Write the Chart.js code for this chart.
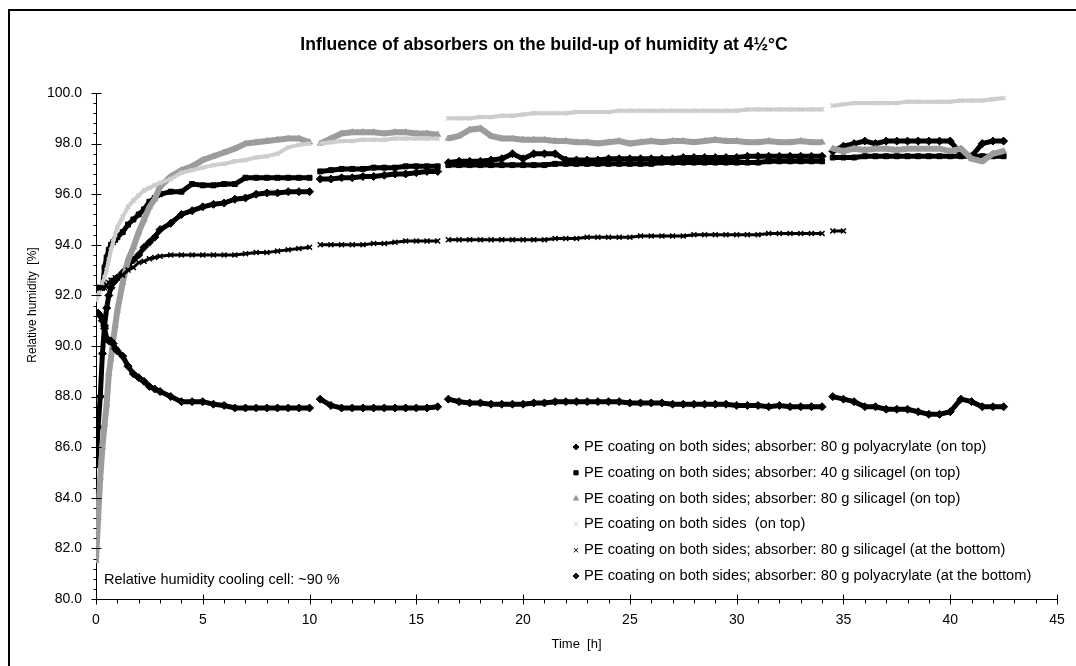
<!DOCTYPE html>
<html><head><meta charset="utf-8">
<script src="https://cdn.jsdelivr.net/npm/chart.js@4.4.0/dist/chart.umd.min.js"></script>
<style>html,body{margin:0;padding:0;background:#fff;}#wrap{position:relative;width:1076px;height:666px;}</style>
</head><body><div id="wrap"><canvas id="c" width="1076" height="666"></canvas></div>
<script>
// time [h]; null rows mark the measurement breaks
const times = [0,0.1,0.2,0.3,0.4,0.5,0.6,0.7,0.8,0.9,1,1.25,1.5,1.75,2,2.25,2.5,2.75,3,3.5,4,4.5,5,5.5,6,6.5,7,7.5,8,8.5,9,9.5,10,
  10.25,
  10.5,11,11.5,12,12.5,13,13.5,14,14.5,15,15.5,16,
  16.25,
  16.5,17,17.5,18,18.5,19,19.5,20,20.5,21,21.5,22,22.5,23,23.5,24,24.5,25,25.5,26,26.5,27,27.5,28,28.5,29,29.5,30,30.5,31,31.5,32,32.5,33,33.5,34,
  34.25,
  34.5,35,35.5,36,36.5,37,37.5,38,38.5,39,39.5,40,40.5,41,41.5,42,42.5];

const paTop = [85.3,86.8,88.0,89.7,90.8,91.5,92.0,92.3,92.5,92.6,92.7, 92.9,93.2,93.4,93.6,93.9,94.1,94.3,94.6, 94.85,95.2,95.35,95.5,95.6,95.65,95.8,95.85,96.0,96.05,96.05,96.1,96.1,96.1,
  null,
  96.6,96.6,96.65,96.65,96.7,96.7,96.75,96.8,96.8,96.85,96.9,96.9,
  null,
  97.25,97.3,97.3,97.3,97.35,97.4,97.6,97.4,97.6,97.6, 97.6,97.35,97.35,97.35,97.35,97.4,97.4,97.4,97.4,97.4, 97.4,97.4,97.45,97.45,97.45,97.45,97.45,97.45,97.5,97.5, 97.5,97.5,97.5,97.5,97.5,97.5,
  null,
  97.7,97.9,98.0,98.1,98.0,98.1,98.1,98.1,98.1,98.1, 98.1,98.1,97.6,97.5,98.0,98.1,98.1];

const sg40Top = [92.3,92.3,92.3,92.3,93.1,93.5,93.8,94.0,94.1,94.2,94.3, 94.5,94.8,95.0,95.2,95.4,95.7,95.85,96.0, 96.1,96.1,96.4,96.35,96.35,96.4,96.4,96.65,96.65,96.65,96.65,96.65,96.65,96.65,
  null,
  96.9,96.95,97.0,97.0,97.0,97.05,97.05,97.05,97.1,97.1,97.1,97.1,
  null,
  97.15,97.15,97.15,97.15,97.15,97.15,97.15,97.15,97.15,97.15, 97.2,97.2,97.2,97.2,97.2,97.2,97.2,97.2,97.2,97.2, 97.25,97.25,97.25,97.25,97.25,97.25,97.25,97.25,97.25,97.25, 97.3,97.3,97.3,97.3,97.3,97.3,
  null,
  97.45,97.45,97.45,97.5,97.5,97.5,97.5,97.5,97.5,97.5, 97.5,97.5,97.5,97.5,97.5,97.5,97.5];

const sg80Top = [81.5,83.2,84.8,86.0,86.9,87.7,88.9,89.5,90.2,90.8,91.4, 92.5,93.4,93.9,94.5,95.0,95.5,95.8,96.3, 96.7,96.95,97.1,97.35,97.5,97.65,97.8,98.0,98.05,98.1,98.15,98.2,98.2,98.05,
  null,
  98.0,98.2,98.4,98.45,98.45,98.45,98.4,98.45,98.45,98.4,98.4,98.35,
  null,
  98.2,98.3,98.55,98.6,98.3,98.2,98.2,98.15,98.15,98.15, 98.1,98.1,98.05,98.05,98.0,98.05,98.1,98.0,98.05,98.1, 98.05,98.1,98.1,98.05,98.1,98.15,98.1,98.1,98.05,98.05, 98.1,98.05,98.05,98.1,98.05,98.05,
  null,
  97.8,97.7,97.8,97.75,97.8,97.8,97.75,97.8,97.8,97.8, 97.8,97.7,97.8,97.4,97.3,97.6,97.7];

const peTop = [91.8,92.0,92.2,92.5,92.7,93.0,93.4,93.8,94.1,94.4,94.7, 95.1,95.5,95.75,95.95,96.15,96.25,96.35,96.45, 96.6,96.85,96.95,97.05,97.15,97.2,97.3,97.35,97.45,97.5,97.6,97.85,97.95,98.0,
  null,
  98.0,98.05,98.1,98.1,98.15,98.15,98.15,98.2,98.2,98.2,98.2,98.2,
  null,
  99.0,99.0,99.0,99.05,99.05,99.1,99.1,99.15,99.2,99.2, 99.2,99.2,99.25,99.25,99.25,99.25,99.3,99.3,99.3,99.3, 99.3,99.3,99.3,99.3,99.3,99.3,99.3,99.3,99.35,99.35, 99.35,99.35,99.35,99.35,99.35,99.35,
  null,
  99.5,99.55,99.6,99.6,99.6,99.6,99.6,99.65,99.65,99.65, 99.65,99.65,99.7,99.7,99.7,99.75,99.8];

const sg80Bottom = [92.3,92.3,92.3,92.3,92.3,92.4,92.5,92.6,92.6,92.7,92.7, 92.8,93.0,93.1,93.3,93.35,93.45,93.5,93.55, 93.6,93.6,93.6,93.6,93.6,93.6,93.6,93.65,93.7,93.7,93.75,93.8,93.85,93.9,
  null,
  94.0,94.0,94.0,94.0,94.0,94.05,94.05,94.1,94.15,94.15,94.15,94.15,
  null,
  94.2,94.2,94.2,94.2,94.2,94.2,94.2,94.2,94.2,94.2, 94.25,94.25,94.25,94.3,94.3,94.3,94.3,94.3,94.35,94.35, 94.35,94.35,94.35,94.4,94.4,94.4,94.4,94.4,94.4,94.4, 94.45,94.45,94.45,94.45,94.45,94.45,
  null,
  94.55,94.55,null,null,null,null,null,null,null,null, null,null,null,null,null,null,null];

const paBottom = [91.3,91.3,91.2,91.0,90.7,90.3,90.2,90.2,90.1,89.9,89.8, 89.6,89.2,88.9,88.75,88.6,88.4,88.3,88.2, 88.0,87.8,87.8,87.8,87.7,87.65,87.55,87.55,87.55,87.55,87.55,87.55,87.55,87.55,
  null,
  87.9,87.65,87.55,87.55,87.55,87.55,87.55,87.55,87.55,87.55,87.55,87.6,
  null,
  87.9,87.8,87.75,87.75,87.7,87.7,87.7,87.7,87.75,87.75, 87.8,87.8,87.8,87.8,87.8,87.8,87.8,87.75,87.75,87.75, 87.75,87.7,87.7,87.7,87.7,87.7,87.7,87.65,87.65,87.65, 87.6,87.65,87.6,87.6,87.6,87.6,
  null,
  88.0,87.9,87.8,87.6,87.6,87.5,87.5,87.5,87.4,87.3, 87.3,87.4,87.9,87.8,87.6,87.6,87.6];

const seriesLabels = [
  'PE coating on both sides; absorber: 80 g polyacrylate (on top)',
  'PE coating on both sides; absorber: 40 g silicagel (on top)',
  'PE coating on both sides; absorber: 80 g silicagel (on top)',
  'PE coating on both sides  (on top)',
  'PE coating on both sides; absorber: 80 g silicagel (at the bottom)',
  'PE coating on both sides; absorber: 80 g polyacrylate (at the bottom)'
];
const seriesValues = [paTop, sg40Top, sg80Top, peTop, sg80Bottom, paBottom];
const seriesColors = ['#000000','#000000','#9c9c9c','#cdcdcd','#000000','#000000'];
const seriesPointStyles = ['rectRot','rect','triangle','crossRot','crossRot','rectRot'];
const seriesRadius = [4,3.5,3.5,3,3.5,4];
const seriesLineWidth = [5,5,6,4,3,5];

const chartTitle = 'Influence of absorbers on the build-up of humidity at 4½°C';
const xTitle = 'Time  [h]';
const yTitle = 'Relative humidity  [%]';
const noteText = 'Relative humidity cooling cell: ~90 %';
const xRange = [0, 45], xMajor = 5, xMinor = 1;
const yRange = [80, 100], yMajor = 2, yMinor = 0.4;

const FONT = "'Liberation Sans', Arial, sans-serif";

const datasets = seriesValues.map((vals, i) => ({
  label: seriesLabels[i],
  data: times.map((t, k) => ({x: t, y: vals[k]})),
  showLine: true,
  spanGaps: false,
  borderColor: seriesColors[i],
  backgroundColor: seriesColors[i],
  borderWidth: seriesLineWidth[i],
  pointStyle: seriesPointStyles[i],
  pointRadius: seriesRadius[i],
  pointBorderWidth: seriesPointStyles[i] === 'crossRot' ? 1.5 : 1,
  pointBorderColor: seriesColors[i],
  pointBackgroundColor: seriesColors[i],
  order: seriesValues.length - i
}));

const decorPlugin = {
  id: 'decor',
  beforeDraw(chart) {
    const ctx = chart.ctx;
    ctx.save();
    ctx.fillStyle = '#fff';
    ctx.fillRect(0, 0, chart.width, chart.height);
    ctx.strokeStyle = '#000';
    ctx.lineWidth = 2;
    ctx.beginPath();
    ctx.moveTo(9, chart.height);
    ctx.lineTo(9, 10);
    ctx.lineTo(chart.width, 10);
    ctx.stroke();
    ctx.restore();
  },
  afterDraw(chart) {
    const ctx = chart.ctx, xs = chart.scales.x, ys = chart.scales.y, ca = chart.chartArea;
    ctx.save();
    ctx.strokeStyle = '#000';
    ctx.lineWidth = 1;
    ctx.beginPath();
    const ax = Math.round(ca.left) + 0.5;
    const nY = Math.round((yRange[1] - yRange[0]) / yMinor);
    const perY = Math.round(yMajor / yMinor);
    for (let i = 0; i <= nY; i++) {
      const py = Math.round(ys.getPixelForValue(yRange[0] + i * yMinor)) + 0.5;
      if (i % perY === 0) { ctx.moveTo(ax - 5, py); ctx.lineTo(ax + 5, py); }
      else { ctx.moveTo(ax - 3, py); ctx.lineTo(ax, py); }
    }
    const ay = Math.round(ca.bottom) + 0.5;
    const nX = Math.round((xRange[1] - xRange[0]) / xMinor);
    const perX = Math.round(xMajor / xMinor);
    for (let i = 0; i <= nX; i++) {
      const px = Math.round(xs.getPixelForValue(xRange[0] + i * xMinor)) + 0.5;
      if (i % perX === 0) { ctx.moveTo(px, ay - 5); ctx.lineTo(px, ay + 5); }
      else { ctx.moveTo(px, ay); ctx.lineTo(px, ay + 4); }
    }
    ctx.stroke();

    ctx.fillStyle = '#000';
    // chart title
    ctx.font = 'bold 17.5px ' + FONT;
    ctx.textAlign = 'center';
    ctx.textBaseline = 'middle';
    ctx.fillText(chartTitle, 544, 45);

    // y-axis title
    ctx.save();
    ctx.translate(33, 305);
    ctx.rotate(-Math.PI / 2);
    ctx.font = '12px ' + FONT;
    ctx.textAlign = 'center';
    ctx.textBaseline = 'middle';
    ctx.fillText(yTitle, 0, 0);
    ctx.restore();

    // note
    ctx.font = '14.5px ' + FONT;
    ctx.textBaseline = 'middle';
    ctx.textAlign = 'left';
    ctx.fillText(noteText, ca.left + 8, ca.bottom - 19);

    // legend
    ctx.font = '14.7px ' + FONT;
    const lx = ca.left + 480, tx = ca.left + 488, ly0 = 447, dy = 25.8;
    seriesLabels.forEach((lab, i) => {
      const y = ly0 + i * dy;
      ctx.fillStyle = seriesColors[i];
      ctx.strokeStyle = seriesColors[i];
      Chart.helpers.drawPoint(ctx, {pointStyle: seriesPointStyles[i], radius: 3, rotation: 0, borderWidth: seriesPointStyles[i]==='crossRot'?1.5:1}, lx, y);
      ctx.fillStyle = '#000';
      ctx.fillText(lab, tx, y);
    });
    ctx.restore();
  }
};

new Chart(document.getElementById('c'), {
  type: 'scatter',
  data: {datasets},
  options: {
    responsive: false,
    devicePixelRatio: 1,
    animation: false,
    layout: {padding: {left: 0, right: 19, top: 93, bottom: 0}},
    plugins: {
      legend: {display: false},
      tooltip: {enabled: false},
      title: {display: false}
    },
    scales: {
      x: {
        type: 'linear', min: xRange[0], max: xRange[1],
        afterFit(s) { s.height = 67; },
        grid: {display: false},
        border: {display: true, color: '#000', width: 1},
        ticks: {stepSize: xMajor, color: '#000', padding: 5, font: {family: FONT, size: 14}, maxRotation: 0},
        title: {display: true, text: xTitle, color: '#000', font: {family: FONT, size: 13}, padding: {top: 0, bottom: 14}}
      },
      y: {
        type: 'linear', min: yRange[0], max: yRange[1],
        afterFit(s) { s.width = 96; },
        grid: {display: false},
        border: {display: true, color: '#000', width: 1},
        ticks: {stepSize: yMajor, color: '#000', padding: 6, font: {family: FONT, size: 14},
          callback: v => Number(v).toFixed(1)},
        title: {display: false}
      }
    }
  },
  plugins: [decorPlugin]
});
</script>
</body></html>
